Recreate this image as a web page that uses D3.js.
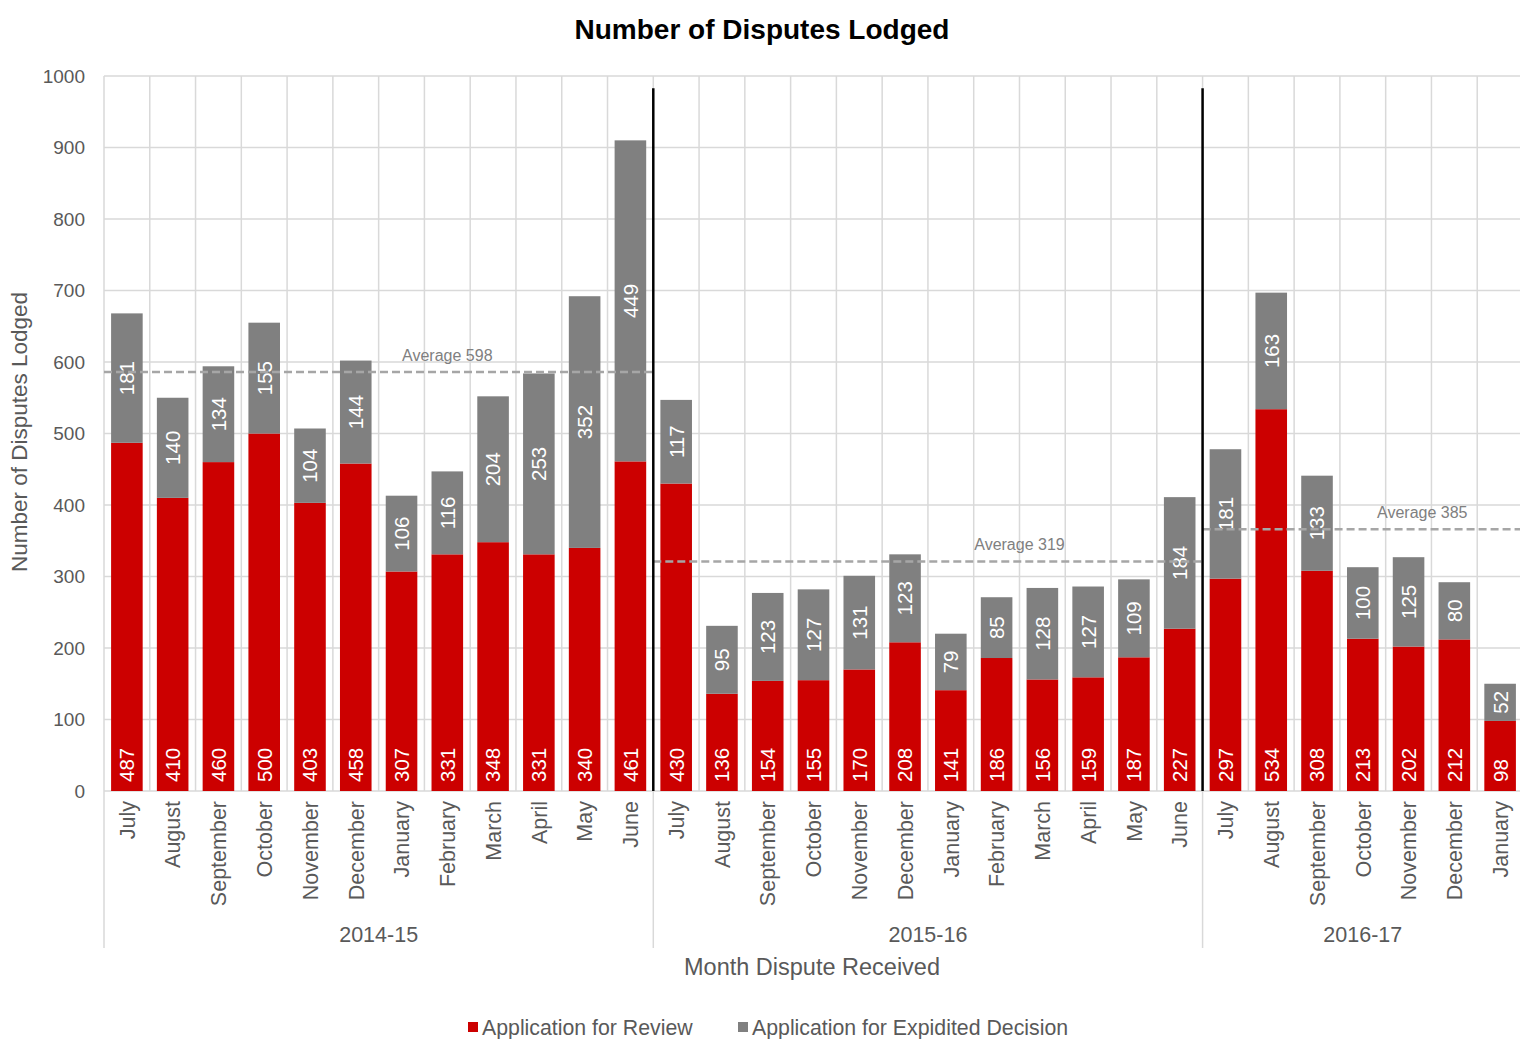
<!DOCTYPE html>
<html>
<head>
<meta charset="utf-8">
<script src="https://cdn.jsdelivr.net/npm/d3@7/dist/d3.min.js"></script>
<style>
  body { margin: 0; background: #fff; }
  text { font-family: "Liberation Sans", Arial, sans-serif; }
</style>
</head>
<body>
<div id="chart-area"></div>
<script>
// data
var years = ["2014-15", "2015-16", "2016-17"];
var months1415 = ["July","August","September","October","November","December","January","February","March","April","May","June"];
var months1516 = ["July","August","September","October","November","December","January","February","March","April","May","June"];
var months1617 = ["July","August","September","October","November","December","January"];
var review1415 = [487,410,460,500,403,458,307,331,348,331,340,461];
var review1516 = [430,136,154,155,170,208,141,186,156,159,187,227];
var review1617 = [297,534,308,213,202,212,98];
var expedited1415 = [181,140,134,155,104,144,106,116,204,253,352,449];
var expedited1516 = [117,95,123,127,131,123,79,85,128,127,109,184];
var expedited1617 = [181,163,133,100,125,80,52];
var avgLabels = ["Average 598", "Average 319", "Average 385"];
var avgLineValues = [586, 321, 366];
var yTicks = [0,100,200,300,400,500,600,700,800,900,1000];

var red = "#cc0000", grey = "#808080", textGrey = "#595959";

var W = 1520, H = 1039;
var margin = { left: 104, right: -3, top: 76, bottom: 248 };
var width = W - margin.left - margin.right;
var height = H - margin.top - margin.bottom;

var svg = d3.select("#chart-area").append("svg")
    .attr("width", W)
    .attr("height", H);

var g = svg.append("g")
    .attr("transform", "translate(" + margin.left + "," + margin.top + ")");

// flatten
var monthsByYear = [months1415, months1516, months1617];
var reviewByYear = [review1415, review1516, review1617];
var expByYear = [expedited1415, expedited1516, expedited1617];
var data = [];
var groups = [];
monthsByYear.forEach(function(ms, yi){
  var start = data.length;
  ms.forEach(function(m, i){
    data.push({ id: data.length, month: m, year: years[yi], review: reviewByYear[yi][i], exp: expByYear[yi][i] });
  });
  groups.push({ year: years[yi], start: start, end: data.length - 1, avg: avgLineValues[yi], label: avgLabels[yi] });
});

var x = d3.scaleBand()
    .domain(data.map(function(d){ return d.id; }))
    .range([0, width])
    .paddingInner(0.31)
    .paddingOuter(0.155);
var step = x.step();
var y = d3.scaleLinear()
    .domain([0, 1000])
    .range([height, 0]);

function leftEdge(i){ return x(i) - step * x.paddingInner() / 2; }
function rightEdge(i){ return x(i) + x.bandwidth() + step * x.paddingInner() / 2; }

// gridlines
g.selectAll(".hgrid").data(yTicks).enter().append("line")
    .attr("x1", 0).attr("x2", width)
    .attr("y1", function(d){ return y(d); })
    .attr("y2", function(d){ return y(d); })
    .attr("stroke", "#d9d9d9").attr("stroke-width", 1.5);

var vBounds = data.map(function(d){ return leftEdge(d.id); });
g.selectAll(".vgrid").data(vBounds).enter().append("line")
    .attr("x1", function(d){ return d; }).attr("x2", function(d){ return d; })
    .attr("y1", 0).attr("y2", height)
    .attr("stroke", "#d9d9d9").attr("stroke-width", 1.5);

// group separators below axis
var sepX = groups.map(function(gr){ return leftEdge(gr.start); });
g.selectAll(".sep").data(sepX).enter().append("line")
    .attr("x1", function(d){ return d; }).attr("x2", function(d){ return d; })
    .attr("y1", height).attr("y2", height + 157)
    .attr("stroke", "#d9d9d9").attr("stroke-width", 1.5);

// y axis labels
g.selectAll(".ytick").data(yTicks).enter().append("text")
    .attr("x", -19)
    .attr("y", function(d){ return y(d); })
    .attr("dy", "0.35em")
    .attr("text-anchor", "end")
    .attr("font-size", "19px")
    .attr("fill", textGrey)
    .text(function(d){ return d; });

// bars
var bars = g.selectAll(".bar").data(data).enter().append("g");
bars.append("rect")
    .attr("x", function(d){ return x(d.id); })
    .attr("width", x.bandwidth())
    .attr("y", function(d){ return y(d.review); })
    .attr("height", function(d){ return y(0) - y(d.review); })
    .attr("fill", red);
bars.append("rect")
    .attr("x", function(d){ return x(d.id); })
    .attr("width", x.bandwidth())
    .attr("y", function(d){ return y(d.review + d.exp); })
    .attr("height", function(d){ return y(d.review) - y(d.review + d.exp); })
    .attr("fill", grey);

// review labels (inside base)
bars.append("text")
    .attr("transform", function(d){
      return "translate(" + (x(d.id) + x.bandwidth() / 2) + "," + (y(0) - 9) + ") rotate(-90)";
    })
    .attr("dy", "0.36em")
    .attr("font-size", "20.5px")
    .attr("fill", "#fff")
    .text(function(d){ return d.review; });

// expedited labels (centered)
bars.append("text")
    .attr("transform", function(d){
      return "translate(" + (x(d.id) + x.bandwidth() / 2) + "," + y(d.review + d.exp / 2) + ") rotate(-90)";
    })
    .attr("dy", "0.36em")
    .attr("text-anchor", "middle")
    .attr("font-size", "20.5px")
    .attr("fill", "#fff")
    .text(function(d){ return d.exp; });

// average lines
var labelPos = [7.5, 20.0, 28.8];
groups.forEach(function(gr, i){
  var x1 = leftEdge(gr.start);
  var x2 = (i === groups.length - 1) ? width : rightEdge(gr.end);
  g.append("line")
      .attr("x1", x1).attr("x2", x2)
      .attr("y1", y(gr.avg)).attr("y2", y(gr.avg))
      .attr("stroke", "#a6a6a6")
      .attr("stroke-width", 2.5)
      .attr("stroke-dasharray", "8,4");
  g.append("text")
      .attr("x", leftEdge(0) + labelPos[i] * step)
      .attr("y", y(gr.avg) - 11)
      .attr("text-anchor", "middle")
      .attr("font-size", "16px")
      .attr("fill", "#808080")
      .text(gr.label);
});

// year separator black lines
groups.slice(1).forEach(function(gr){
  var xs = leftEdge(gr.start);
  g.append("line")
      .attr("x1", xs).attr("x2", xs)
      .attr("y1", y(983)).attr("y2", height)
      .attr("stroke", "#000")
      .attr("stroke-width", 2.5);
});

// month labels
g.selectAll(".mlabel").data(data).enter().append("text")
    .attr("transform", function(d){
      return "translate(" + (x(d.id) + x.bandwidth() / 2) + "," + (height + 10) + ") rotate(-90)";
    })
    .attr("dy", "0.36em")
    .attr("text-anchor", "end")
    .attr("font-size", "21.5px")
    .attr("fill", textGrey)
    .text(function(d){ return d.month; });

// year labels
groups.forEach(function(gr, i){
  var x1 = leftEdge(gr.start);
  var x2 = (i === groups.length - 1) ? width : rightEdge(gr.end);
  g.append("text")
      .attr("x", (x1 + x2) / 2)
      .attr("y", height + 151)
      .attr("text-anchor", "middle")
      .attr("font-size", "21.5px")
      .attr("fill", textGrey)
      .text(gr.year);
});

// titles
svg.append("text")
    .attr("x", 762).attr("y", 39)
    .attr("text-anchor", "middle")
    .attr("font-size", "28px")
    .attr("font-weight", "bold")
    .attr("fill", "#000")
    .text("Number of Disputes Lodged");

svg.append("text")
    .attr("x", 812).attr("y", 975)
    .attr("text-anchor", "middle")
    .attr("font-size", "23.5px")
    .attr("fill", textGrey)
    .text("Month Dispute Received");

svg.append("text")
    .attr("transform", "translate(27,432) rotate(-90)")
    .attr("text-anchor", "middle")
    .attr("font-size", "22.5px")
    .attr("fill", textGrey)
    .text("Number of Disputes Lodged");

// legend
var legendItems = [
  { label: "Application for Review", color: red, x: 468 },
  { label: "Application for Expidited Decision", color: grey, x: 738 }
];
var legend = svg.selectAll(".legend").data(legendItems).enter().append("g")
    .attr("transform", function(d){ return "translate(" + d.x + ",1027)"; });
legend.append("rect")
    .attr("x", 0).attr("y", -5)
    .attr("width", 10).attr("height", 10)
    .attr("fill", function(d){ return d.color; });
legend.append("text")
    .attr("x", 14)
    .attr("dy", "0.36em")
    .attr("font-size", "21.3px")
    .attr("fill", textGrey)
    .text(function(d){ return d.label; });
</script>
</body>
</html>
